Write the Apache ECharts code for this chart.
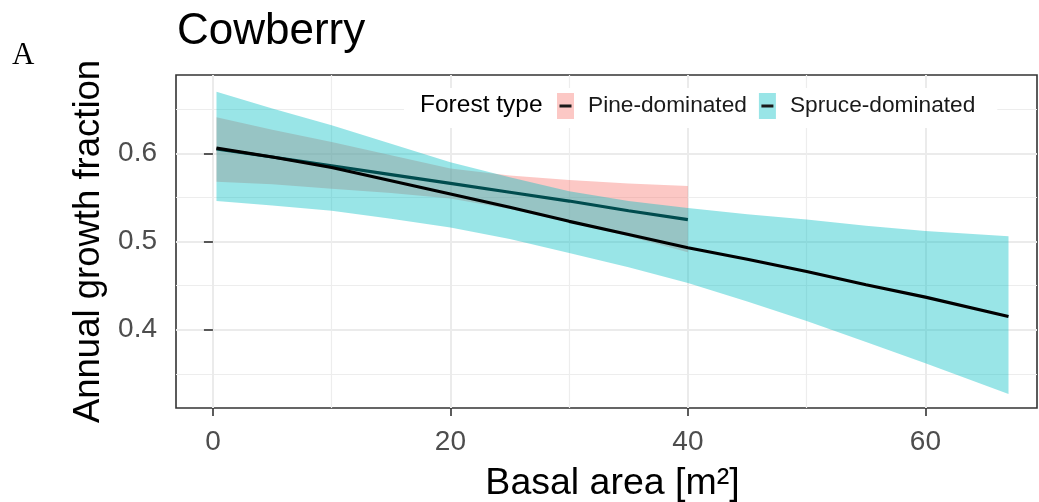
<!DOCTYPE html>
<html>
<head>
<meta charset="utf-8">
<script src="https://cdn.jsdelivr.net/npm/echarts@6/dist/echarts.min.js"></script>
<style>
  html, body { margin: 0; padding: 0; background: #fff; }
  #chart { width: 1039px; height: 502px; }
</style>
</head>
<body>
<div id="chart"></div>
<script>
// Fitted annual growth fraction of cowberry against stand basal area,
// with 95% confidence ribbons, for the two forest types.
const forestTypes = ['Pine-dominated', 'Spruce-dominated'];

const pineBasal = [0.3, 5, 10, 15, 20, 25, 30, 35, 40];
const pineFit   = [0.605, 0.596, 0.586, 0.576, 0.566, 0.556, 0.546, 0.535, 0.525];
const pineUpper = [0.641, 0.627, 0.613, 0.598, 0.583, 0.575, 0.570, 0.566, 0.563];
const pineLower = [0.568, 0.565, 0.560, 0.555, 0.549, 0.537, 0.522, 0.506, 0.488];

const spruceBasal = [0.3, 5, 10, 15, 20, 25, 30, 35, 40, 45, 50, 55, 60, 67];
const spruceFit   = [0.606, 0.596, 0.584, 0.569, 0.554, 0.539, 0.523, 0.508, 0.493, 0.480, 0.466, 0.451, 0.437, 0.415];
const spruceUpper = [0.670, 0.651, 0.632, 0.611, 0.590, 0.573, 0.557, 0.546, 0.538, 0.531, 0.525, 0.518, 0.512, 0.506];
const spruceLower = [0.546, 0.541, 0.535, 0.526, 0.516, 0.503, 0.487, 0.471, 0.453, 0.432, 0.410, 0.386, 0.362, 0.327];

// Axis breaks
const xTicks = [0, 20, 40, 60];
const xTickLabels = ['0', '20', '40', '60'];
const xMinorTicks = [10, 30, 50];
const yTicks = [0.4, 0.5, 0.6];
const yTickLabels = ['0.4', '0.5', '0.6'];
const yMinorTicks = [0.35, 0.45, 0.55, 0.65];

const X_RANGE = [-3.11, 69.4];
const Y_RANGE = [0.3112, 0.6890];

const FONT = 'Liberation Sans, Arial, sans-serif';
const PINE_FILL = 'rgba(248,118,109,0.4)';
const SPRUCE_FILL = 'rgba(0,191,196,0.4)';

function pairs(xs, ys) {
  return xs.map((x, i) => [x, ys[i]]);
}

// Confidence ribbon drawn as one polygon through the axis scales.
function ribbonSeries(name, xs, lo, hi, fill, z) {
  return {
    name: name,
    type: 'custom',
    xAxisIndex: 1,
    yAxisIndex: 1,
    z: z,
    silent: true,
    data: xs.map((x, i) => [x, lo[i], hi[i]]),
    encode: { x: 0, y: [1, 2] },
    renderItem: function (params, api) {
      if (params.dataIndex !== 0) return null;
      const pts = [];
      for (let i = 0; i < xs.length; i++) pts.push(api.coord([xs[i], hi[i]]));
      for (let i = xs.length - 1; i >= 0; i--) pts.push(api.coord([xs[i], lo[i]]));
      return { type: 'polygon', shape: { points: pts }, style: { fill: fill } };
    }
  };
}

function fitSeries(name, xs, ys, z) {
  return {
    name: name,
    type: 'line',
    xAxisIndex: 1,
    yAxisIndex: 1,
    z: z,
    silent: true,
    symbol: 'none',
    data: pairs(xs, ys),
    lineStyle: { color: '#000', width: 3.2 },
    itemStyle: { color: '#000' }
  };
}

const legendCommon = {
  left: 404,
  top: 88,
  orient: 'horizontal',
  padding: [5, 22, 9, 153],
  itemWidth: 17,
  itemHeight: 26,
  itemGap: 12,
  selectedMode: false,
  z: 20,
  textStyle: { fontFamily: FONT, fontSize: 22.7, color: '#1a1a1a', padding: [0, 0, 0, 9] }
};

const chart = echarts.init(document.getElementById('chart'), null, { renderer: 'canvas' });

chart.setOption({
  animation: false,
  backgroundColor: '#fff',
  title: [
    {
      text: 'Cowberry',
      left: 177, top: 10, padding: 0,
      textStyle: { fontFamily: FONT, fontSize: 44, fontWeight: 'normal', color: '#000' }
    },
    {
      text: 'A',
      left: 12, top: 40, padding: 0,
      textStyle: { fontFamily: 'Liberation Serif, Times New Roman, serif', fontSize: 31, fontWeight: 'normal', color: '#000' }
    }
  ],
  grid: {
    left: 176, right: 2, top: 75, bottom: 94,
    outerBoundsMode: 'none',
    containLabel: false,
    show: true,
    borderColor: '#333333',
    borderWidth: 1.6,
    backgroundColor: 'transparent'
  },
  xAxis: [
    {
      // minor grid
      type: 'value', min: X_RANGE[0], max: X_RANGE[1],
      axisLine: { show: false },
      axisTick: { show: false, customValues: xMinorTicks },
      axisLabel: { show: false, customValues: xMinorTicks },
      splitLine: { show: true, lineStyle: { color: '#EDEDED', width: 1.2 } }
    },
    {
      type: 'value', min: X_RANGE[0], max: X_RANGE[1],
      position: 'bottom',
      name: 'Basal area [m²]',
      nameLocation: 'middle',
      nameGap: 57,
      nameTextStyle: { fontFamily: FONT, fontSize: 37.5, color: '#000', padding: [0, 0, 0, 12] },
      axisLine: { show: false },
      axisTick: { show: true, length: 8, customValues: xTicks, lineStyle: { color: '#333', width: 1.6 } },
      axisLabel: {
        customValues: xTicks,
        margin: 20,
        fontFamily: FONT, fontSize: 28, color: '#4D4D4D',
        formatter: v => xTickLabels[xTicks.indexOf(v)]
      },
      splitLine: { show: true, lineStyle: { color: '#EBEBEB', width: 2 } }
    }
  ],
  yAxis: [
    {
      type: 'value', min: Y_RANGE[0], max: Y_RANGE[1],
      axisLine: { show: false },
      axisTick: { show: false, customValues: yMinorTicks },
      axisLabel: { show: false, customValues: yMinorTicks },
      splitLine: { show: true, lineStyle: { color: '#EDEDED', width: 1.2 } }
    },
    {
      type: 'value', min: Y_RANGE[0], max: Y_RANGE[1],
      position: 'left',
      name: 'Annual growth fraction',
      nameLocation: 'middle',
      nameGap: 69,
      nameTextStyle: { fontFamily: FONT, fontSize: 36.5, color: '#000' },
      axisLine: { show: false },
      axisTick: { show: true, length: 9, customValues: yTicks, lineStyle: { color: '#333', width: 1.6 } },
      axisLabel: {
        customValues: yTicks,
        margin: 19,
        fontFamily: FONT, fontSize: 28, color: '#4D4D4D',
        formatter: v => yTickLabels[yTicks.indexOf(v)]
      },
      splitLine: { show: true, lineStyle: { color: '#EBEBEB', width: 2 } }
    }
  ],
  legend: [
    Object.assign({}, legendCommon, {
      backgroundColor: '#fff',
      data: [
        { name: forestTypes[0], icon: 'rect', itemStyle: { color: '#FCC8C5' } },
        { name: forestTypes[1], icon: 'rect', itemStyle: { color: '#99E5E7' } }
      ]
    }),
    Object.assign({}, legendCommon, {
      backgroundColor: 'transparent',
      z: 21,
      textStyle: Object.assign({}, legendCommon.textStyle, { color: 'rgba(0,0,0,0)' }),
      data: forestTypes.map(n => ({
        name: n,
        icon: 'path://M0,0M17,0M17,26M0,26M2.5,11.5H14.5V14.5H2.5Z',
        itemStyle: { color: '#1a1a1a' }
      }))
    })
  ],
  graphic: [
    {
      type: 'text',
      left: 420,
      top: 93,
      z: 100,
      style: { text: 'Forest type', fontFamily: FONT, fontSize: 24.5, fill: '#000' }
    }
  ],
  series: [
    ribbonSeries(forestTypes[0], pineBasal, pineLower, pineUpper, PINE_FILL, 2),
    fitSeries(forestTypes[0], pineBasal, pineFit, 3),
    ribbonSeries(forestTypes[1], spruceBasal, spruceLower, spruceUpper, SPRUCE_FILL, 4),
    fitSeries(forestTypes[1], spruceBasal, spruceFit, 5)
  ]
});
</script>
</body>
</html>
